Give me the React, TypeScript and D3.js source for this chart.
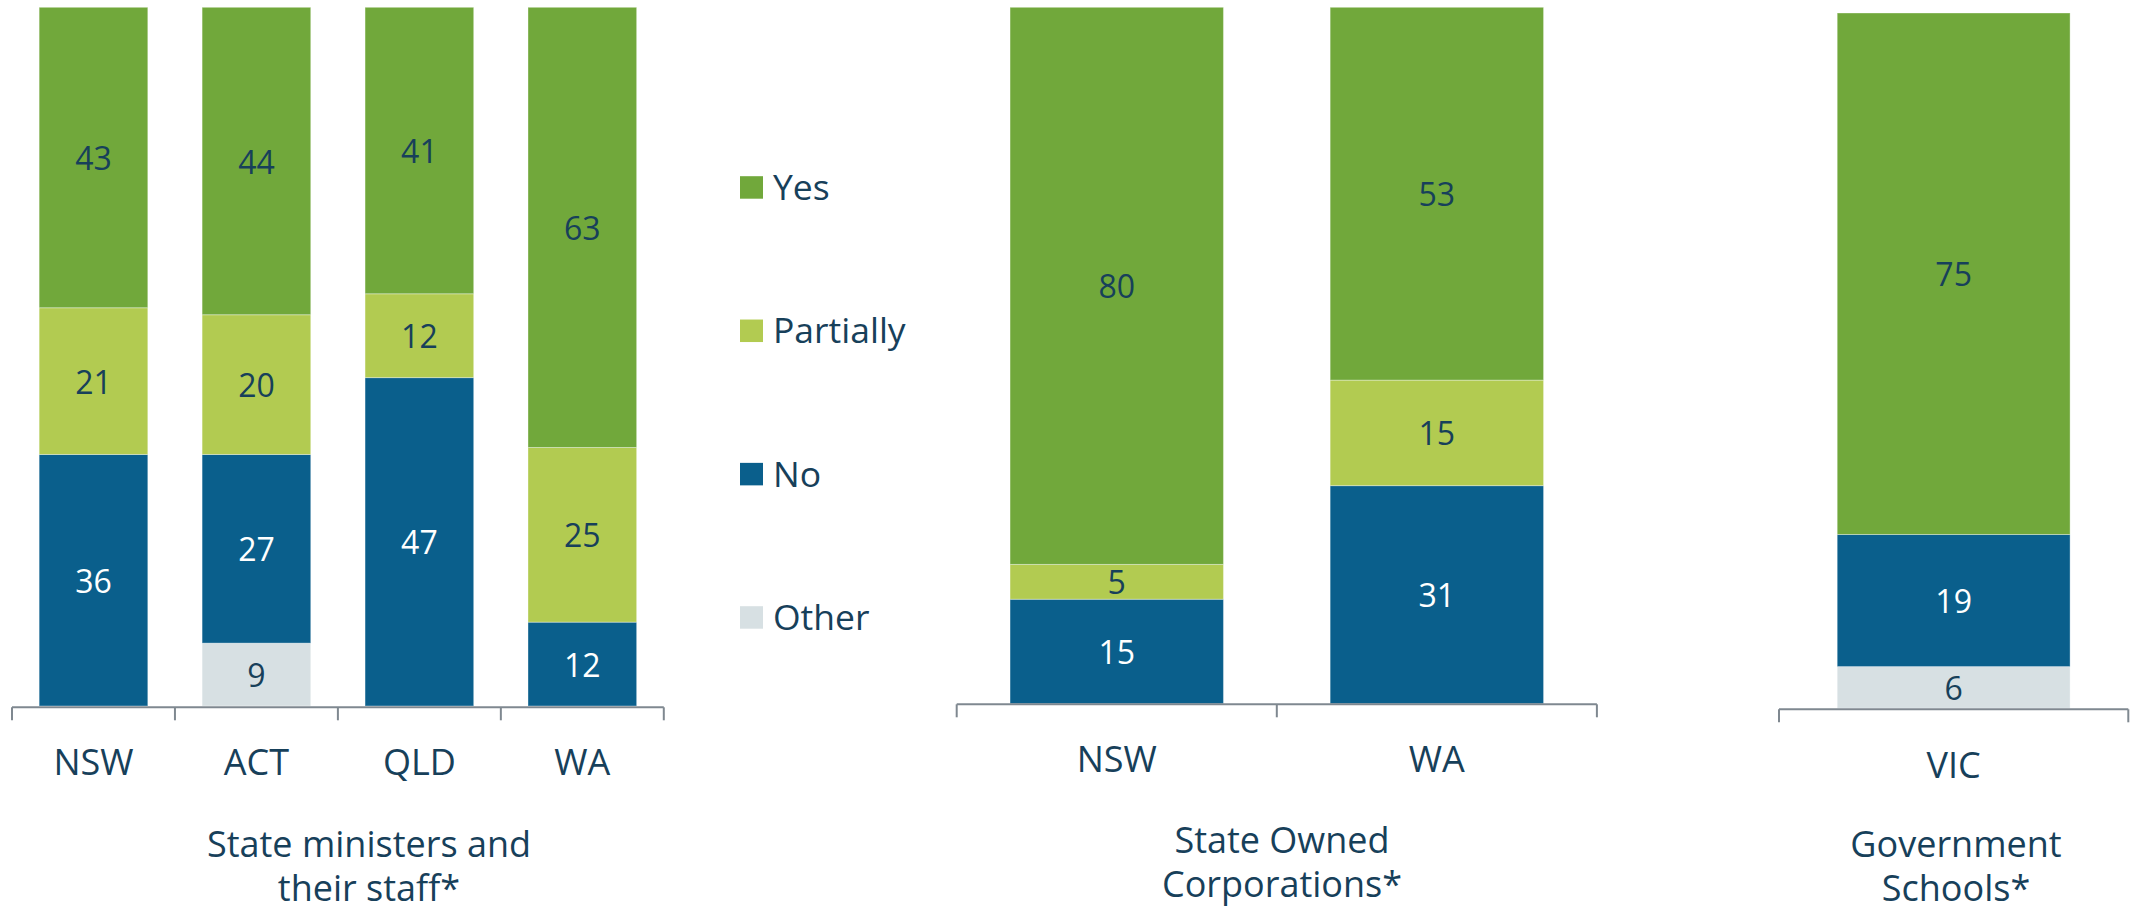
import React from "react";
import * as d3 from "d3";

// ---- data ----
const seriesNames = ["Yes", "Partially", "No", "Other"];
const seriesColors = ["#71A83B", "#B2CB51", "#0A5F8C", "#D7E0E3"];
const labelColors = ["#17405A", "#17405A", "#FFFFFF", "#17405A"];

const ministersCats = ["NSW", "ACT", "QLD", "WA"];
const ministersYes = [43, 44, 41, 63];
const ministersPartially = [21, 20, 12, 25];
const ministersNo = [36, 27, 47, 12];
const ministersOther = [0, 9, 0, 0];

const socCats = ["NSW", "WA"];
const socYes = [80, 53];
const socPartially = [5, 15];
const socNo = [15, 31];
const socOther = [0, 0];

const schoolsCats = ["VIC"];
const schoolsYes = [75];
const schoolsPartially = [0];
const schoolsNo = [19];
const schoolsOther = [6];

const groupTitles = [
  ["State ministers and", "their staff*"],
  ["State Owned", "Corporations*"],
  ["Government", "Schools*"],
];

const groups = [
  { cats: ministersCats, values: [ministersYes, ministersPartially, ministersNo, ministersOther] },
  { cats: socCats, values: [socYes, socPartially, socNo, socOther] },
  { cats: schoolsCats, values: [schoolsYes, schoolsPartially, schoolsNo, schoolsOther] },
];

// ---- layout (styling only) ----
const layouts = [
  { x0: 12, x1: 663.8, top: 7.3, bottom: 706, axisY: 707.3, catY: 775, titleX: 369, titleY: 857.3 },
  { x0: 956.7, x1: 1596.9, top: 7.3, bottom: 703.7, axisY: 704.3, catY: 771.7, titleX: 1282, titleY: 852.7 },
  { x0: 1779, x1: 2128.3, top: 13, bottom: 708.3, axisY: 709.3, catY: 777.7, titleX: 1956, titleY: 857.3 },
];

const FONT = "'Segoe UI', 'Open Sans', sans-serif";
const TEXT = "#17405A";

function Panel({ g, L, title }: any) {
  const rows = g.cats.map((c: string, i: number) => {
    const r: any = { cat: c };
    seriesNames.forEach((s, k) => (r[s] = g.values[k][i]));
    return r;
  });
  const stackKeys = ["Other", "No", "Partially", "Yes"];
  const stacked = d3.stack<any>().keys(stackKeys).offset(d3.stackOffsetExpand)(rows);
  const x = d3.scaleBand().domain(g.cats).range([L.x0, L.x1]).paddingInner(1 / 3).paddingOuter(1 / 6);
  const y = d3.scaleLinear().domain([0, 1]).range([L.bottom, L.top]);
  const step = x.step();
  const ticks = d3.range(g.cats.length + 1).map((i) => L.x0 + i * step);

  return (
    <g>
      {stacked.map((layer) => {
        const si = seriesNames.indexOf(layer.key);
        return (
          <g key={layer.key}>
            {layer.map((d, i) => {
              const v = rows[i][layer.key];
              if (!v) return null;
              const bx = x(g.cats[i])!;
              const y0 = y(d[0]);
              const y1 = y(d[1]);
              const cx = bx + x.bandwidth() / 2;
              const cy = (y0 + y1) / 2;
              return (
                <g key={i}>
                  <rect x={bx} y={y1} width={x.bandwidth()} height={y0 - y1} fill={seriesColors[si]} stroke="#ffffff" strokeOpacity={0.35} strokeWidth={1} />
                  <text
                    x={cx}
                    y={cy}
                    textAnchor="middle"
                    dominantBaseline="central"
                    fontFamily={FONT}
                    fontSize={32}
                    fill={labelColors[si]}
                  >
                    {v}
                  </text>
                </g>
              );
            })}
          </g>
        );
      })}
      <line x1={L.x0} x2={L.x1} y1={L.axisY} y2={L.axisY} stroke="#7F8890" strokeWidth={2} />
      {ticks.map((t, i) => (
        <line key={i} x1={t} x2={t} y1={L.axisY} y2={L.axisY + 13} stroke="#7F8890" strokeWidth={2} />
      ))}
      {g.cats.map((c: string) => (
        <text
          key={c}
          x={x(c)! + x.bandwidth() / 2}
          y={L.catY}
          textAnchor="middle"
          fontFamily={FONT}
          fontSize={36}
          fill={TEXT}
        >
          {c}
        </text>
      ))}
      {title.map((t: string, i: number) => (
        <text
          key={i}
          x={L.titleX}
          y={L.titleY + i * 44}
          textAnchor="middle"
          fontFamily={FONT}
          fontSize={36}
          fill={TEXT}
        >
          {t}
        </text>
      ))}
    </g>
  );
}

export default function App() {
  const legendY = d3.scaleLinear().domain([0, 3]).range([187.4, 617.4]);
  return (
    <svg width={2143} height={907} style={{ position: "absolute", left: 0, top: 0, background: "#fff" }}>
      {groups.map((g, i) => (
        <Panel key={i} g={g} L={layouts[i]} title={groupTitles[i]} />
      ))}
      {seriesNames.map((s, i) => (
        <g key={s}>
          <rect x={740} y={legendY(i) - 11.2} width={23} height={22.5} fill={seriesColors[i]} />
          <text x={773} y={legendY(i) + 12.6} fontFamily={FONT} fontSize={35.5} fill={TEXT}>
            {s}
          </text>
        </g>
      ))}
    </svg>
  );
}
